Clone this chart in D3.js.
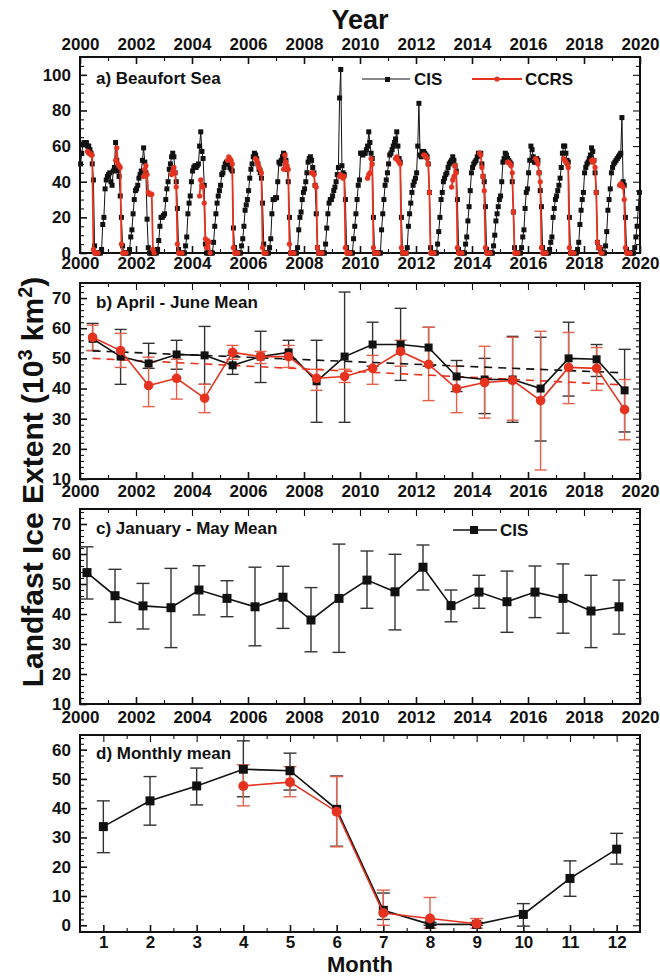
<!DOCTYPE html>
<html>
<head>
<meta charset="utf-8">
<script src="https://cdn.jsdelivr.net/npm/d3@7"></script>
<style>
  body { margin: 0; background: #fff; }
  svg text { font-family: "Liberation Sans", Arial, sans-serif; font-weight: bold; fill: #111; }
</style>
</head>
<body>
<div id="chart"></div>
<script>
// ---------------- data ----------------
var years = [2000, 2001, 2002, 2003, 2004, 2005, 2006, 2007, 2008, 2009,
             2010, 2011, 2012, 2013, 2014, 2015, 2016, 2017, 2018, 2019];
var yearTicks = [2000, 2002, 2004, 2006, 2008, 2010, 2012, 2014, 2016, 2018, 2020];
var months = [1, 2, 3, 4, 5, 6, 7, 8, 9, 10, 11, 12];
var ccrsMonths = [4, 5, 6, 7, 8, 9];

// a) CIS, half-monthly values, one row per year (Jan..Dec)
var cisHalfMonth = [
  [50,56,61,62,62,62,60,60,58,56,50,41,4,0,0,0,0,0,2,16,20,36,41,43],
  [44,45,40,38,46,48,62,52,46,43,32,20,4,0,0,0,0,0,2,9,13,22,30,35],
  [36,38,42,44,46,52,59,51,45,19,3,0,0,0,0,0,0,0,2,7,15,20,20,21],
  [22,30,36,40,47,50,54,56,54,45,40,25,2,0,0,0,0,0,4,9,22,28,32,40],
  [46,48,49,48,49,50,60,68,57,53,38,5,0,0,0,0,0,0,6,15,22,28,32,35],
  [38,44,45,48,50,51,51,50,48,47,46,14,3,0,0,0,0,0,4,8,15,24,27,30],
  [35,42,47,50,54,56,55,53,50,47,45,42,28,5,0,0,0,0,3,8,22,30,30,31],
  [31,40,51,50,52,54,56,55,52,47,40,20,0,0,0,0,0,0,3,13,20,23,30,34],
  [36,40,45,51,53,54,52,48,45,38,22,3,0,0,0,0,0,0,5,14,22,28,30,30],
  [32,35,37,40,44,48,87,103,49,45,44,30,3,0,0,0,0,0,8,15,22,30,38,41],
  [56,56,55,56,56,58,60,68,62,56,53,20,0,0,0,0,0,0,13,22,30,38,41,45],
  [50,55,56,58,60,62,64,68,60,53,51,20,0,0,0,0,3,15,22,28,34,38,40,42],
  [45,60,84,55,54,57,57,56,55,54,50,34,3,0,0,0,0,0,5,12,20,30,34,40],
  [42,44,45,48,50,51,52,54,52,49,46,30,2,0,0,0,0,0,5,9,18,26,35,45],
  [48,50,51,52,54,56,55,56,50,43,40,26,2,0,0,0,0,0,4,10,18,22,26,30],
  [32,40,51,53,56,55,53,52,51,50,40,23,3,0,0,0,0,0,3,9,13,25,34,36],
  [45,52,60,58,54,51,51,53,52,45,35,26,3,0,0,0,0,0,2,6,9,20,25,30],
  [32,35,38,42,48,56,60,60,56,52,51,20,0,0,0,0,0,0,2,6,16,24,30,34],
  [45,48,50,51,53,55,59,57,52,45,34,6,3,3,2,0,0,0,4,12,24,30,36,45],
  [48,50,51,52,53,54,55,56,76,40,38,20,2,0,0,0,0,0,0,3,9,15,25,34]
];
// a) CCRS, half-monthly values from early April (10 per year)
var ccrsHalfMonth = [
  [57,56,56,55,55,2,0,0,0,0],
  [52,59,50,49,48,5,0,0,0,0],
  [43,47,49,44,34,33,33,33,2,0],
  [44,46,48,45,37,5,0,0,0,0],
  [32,41,38,37,28,8,3,7,6,0],
  [52,54,53,52,50,3,0,0,0,0],
  [53,52,50,48,47,45,3,0,0,0],
  [47,55,51,49,47,5,0,0,0,0],
  [45,45,44,38,37,3,0,0,0,0],
  [43,44,43,42,43,3,0,0,0,0],
  [42,44,45,53,50,3,0,0,0,0],
  [53,54,52,51,50,3,0,0,0,0],
  [55,55,54,53,50,34,0,0,0,0],
  [37,41,43,49,45,3,0,0,0,0],
  [56,55,48,43,35,3,0,0,0,0],
  [51,51,50,49,45,23,0,0,0,0],
  [53,52,50,45,40,3,0,0,0,0],
  [53,52,51,50,48,3,0,0,0,0],
  [52,51,52,48,34,6,3,3,0,0],
  [38,39,38,37,30,3,0,0,0,0]
];

// b) April - June mean
var cisAJ   = [56.5,50.6,48.3,51.3,51,47.7,50.6,52,42.4,50.6,54.6,54.6,53.6,44,43,43,40,50,49.7,39.4];
var cisAJlo = [52.6,41.4,46.7,46.4,41.4,44.7,42,49.7,28.8,28.8,47.4,42.7,47.4,39,31.7,28.8,22.6,37.5,44,25.6];
var cisAJhi = [61.6,59.6,55,56,60.6,51,59,56,56,72,62,66.6,60.3,49.3,50,57.3,57,62,54.6,53];
var ccrsAJ   = [57,52.6,41,43.4,36.8,52,50.6,50.6,43.4,44,46.7,52.3,48,40,42,42.7,36,47,46.7,33];
var ccrsAJlo = [52.6,47,34,36.5,32,49.7,48.3,47,39.4,42,41.4,47.4,36,32,30.2,29.5,13,35,39.4,23];
var ccrsAJhi = [61,58.3,50.4,49.7,41.4,54.3,52.3,54.3,46.4,46.4,51,56,60.3,47.4,54,57,59,58.6,53.6,43];
var trendEnds = [2000.45, 2019.4];
var cisTrend  = [52.5, 45.2];
var ccrsTrend = [50.0, 41.2];

// c) January - May mean
var cisJM   = [53.8,46.1,42.7,42.1,48,45.2,42.4,45.6,38,45.2,51.3,47.4,55.6,42.8,47.3,44.1,47.3,45.2,41,42.4];
var cisJMlo = [45,37.2,35,28.8,39.7,39.1,29.4,35.2,27.4,27.2,41.9,34.7,48,37.4,41.9,33.9,38.8,33.6,28.8,33.3];
var cisJMhi = [62.4,54.9,50.2,55.2,56.1,51.1,55.6,55.9,48.8,63.3,61,59.9,63,48,52.9,54.3,56,56.7,52.9,51.3];

// d) Monthly mean
var cisMon   = [33.7,42.5,47.6,53.3,52.8,39.6,5.1,0.3,0.3,3.7,16,26];
var cisMonLo = [24.8,34.2,41.1,43.9,46.2,27,2,0,0,-0.3,9.9,20.9];
var cisMonHi = [42.5,50.8,53.7,63,58.8,51,11,1,1,7.4,22,31.4];
var ccrsMon   = [47.6,48.9,38.8,4.2,2.3,0.5];
var ccrsMonLo = [40.8,43.9,26.8,0,-1,-1];
var ccrsMonHi = [54.8,54.2,50.8,12,9.5,2.3];

// ---------------- layout ----------------
var width = 660, height = 977;
var left = 80, right = 640;
var black = "#111";
var red = "#e5331f";
var redBar = "#e4604a";

var svg = d3.select("#chart")
            .append("svg")
            .attr("width", width)
            .attr("height", height);

var xYear = d3.scaleLinear().domain([2000, 2020]).range([left, right]);
var xMonth = d3.scaleLinear().domain([0.5, 12.5]).range([left, right]);

// draws box, inward ticks on all four sides, labels on left and bottom (and top if asked)
function frame(o) {
  var y = d3.scaleLinear().domain(o.yDomain).range([o.bottom, o.top]);
  var g = svg.append("g");
  var fmt = d3.format("d");

  function ticks(axis, tr, values, size, labels, pad) {
    var a = g.append("g")
             .attr("transform", tr)
             .call(axis.tickValues(values).tickSize(size).tickPadding(pad || 0)
                       .tickFormat(labels ? fmt : ""));
    a.select(".domain").remove();
    a.selectAll("line").attr("stroke", black).attr("stroke-width", labels ? 1.6 : 1.1);
    a.selectAll("text").style("font-size", "17px").attr("fill", black);
    return a;
  }
  // y axes
  ticks(d3.axisLeft(y), "translate(" + left + ",0)", o.yMajor, -7, true, 9);
  ticks(d3.axisLeft(y), "translate(" + left + ",0)", o.yMinor, -4, false);
  ticks(d3.axisRight(y), "translate(" + right + ",0)", o.yMajor, -7, false);
  ticks(d3.axisRight(y), "translate(" + right + ",0)", o.yMinor, -4, false);
  // x axes
  ticks(d3.axisBottom(o.x), "translate(0," + o.bottom + ")", o.xMajor, -7, true, o.xPad);
  ticks(d3.axisBottom(o.x), "translate(0," + o.bottom + ")", o.xMinor, -4, false);
  ticks(d3.axisTop(o.x), "translate(0," + o.top + ")", o.xMajor, -7, !!o.topLabels, 7);
  ticks(d3.axisTop(o.x), "translate(0," + o.top + ")", o.xMinor, -4, false);

  g.append("rect")
   .attr("x", left).attr("y", o.top)
   .attr("width", right - left).attr("height", o.bottom - o.top)
   .attr("fill", "none").attr("stroke", black).attr("stroke-width", 2);

  svg.append("text")
     .attr("x", left + 16).attr("y", o.top + o.titleDy)
     .style("font-size", "17px")
     .text(o.title);
  return y;
}

function errorBars(g, xs, lo, hi, xScale, yScale, color, cap) {
  var d = xs.map(function(v, i) { return {x: v, lo: lo[i], hi: hi[i]}; });
  var e = g.append("g").attr("stroke", color).attr("stroke-width", 1.4);
  e.selectAll("line.v").data(d).enter().append("line")
   .attr("x1", function(d) { return xScale(d.x); })
   .attr("x2", function(d) { return xScale(d.x); })
   .attr("y1", function(d) { return yScale(d.lo); })
   .attr("y2", function(d) { return yScale(d.hi); });
  ["lo", "hi"].forEach(function(k) {
    e.selectAll("line." + k).data(d).enter().append("line")
     .attr("x1", function(d) { return xScale(d.x) - cap; })
     .attr("x2", function(d) { return xScale(d.x) + cap; })
     .attr("y1", function(d) { return yScale(d[k]); })
     .attr("y2", function(d) { return yScale(d[k]); });
  });
}

function series(g, pts, xScale, yScale, color, lw, shape, size) {
  var line = d3.line()
               .x(function(d) { return xScale(d.x); })
               .y(function(d) { return yScale(d.y); });
  g.append("path").datum(pts)
   .attr("d", line).attr("fill", "none")
   .attr("stroke", color).attr("stroke-width", lw);
  if (shape == "square") {
    g.selectAll(null).data(pts).enter().append("rect")
     .attr("x", function(d) { return xScale(d.x) - size / 2; })
     .attr("y", function(d) { return yScale(d.y) - size / 2; })
     .attr("width", size).attr("height", size)
     .attr("fill", color);
  } else {
    g.selectAll(null).data(pts).enter().append("circle")
     .attr("cx", function(d) { return xScale(d.x); })
     .attr("cy", function(d) { return yScale(d.y); })
     .attr("r", size).attr("fill", color);
  }
}

var yearMinor = d3.range(2001, 2020, 2);
var monthMinor = d3.range(1.5, 12, 1);

// ---------------- panel a ----------------
var yA = frame({top: 57, bottom: 253, yDomain: [0, 110], x: xYear,
                yMajor: [0, 20, 40, 60, 80, 100], yMinor: d3.range(5, 110, 5).filter(function(v) { return v % 20; }),
                xMajor: yearTicks, xMinor: yearMinor, xPad: 4, topLabels: true,
                title: "a) Beaufort Sea", titleDy: 27});

var cisPts = [];
cisHalfMonth.forEach(function(vals, k) {
  vals.forEach(function(v, i) { cisPts.push({x: years[k] + (i + 0.5) / 24, y: v}); });
});
var ccrsPts = [];
ccrsHalfMonth.forEach(function(vals, k) {
  vals.forEach(function(v, i) { ccrsPts.push({x: years[k] + (i + 6.5) / 24, y: v}); });
});
var gA = svg.append("g");
series(gA, cisPts, xYear, yA, black, 1, "square", 5);
// CCRS drawn one season at a time so the summer gaps are not joined
for (var k = 0; k < years.length; k++) {
  series(gA, ccrsPts.slice(k * 10, k * 10 + 10), xYear, yA, red, 1.8, "circle", 2.6);
}

// legend a
var lg = svg.append("g");
lg.append("line").attr("x1", 362).attr("x2", 410).attr("y1", 79).attr("y2", 79)
  .attr("stroke", black).attr("stroke-width", 1.2);
lg.append("rect").attr("x", 385).attr("y", 77).attr("width", 5).attr("height", 5).attr("fill", black);
lg.append("text").attr("x", 414).attr("y", 85).style("font-size", "17px").text("CIS");
lg.append("line").attr("x1", 472).attr("x2", 522).attr("y1", 79).attr("y2", 79)
  .attr("stroke", red).attr("stroke-width", 1.8);
lg.append("circle").attr("cx", 497).attr("cy", 79).attr("r", 2.6).attr("fill", red);
lg.append("text").attr("x", 525).attr("y", 85).style("font-size", "17px").text("CCRS");

// ---------------- panel b ----------------
var yB = frame({top: 283, bottom: 479, yDomain: [10, 75], x: xYear,
                yMajor: [10, 20, 30, 40, 50, 60, 70], yMinor: d3.range(12, 75, 2).filter(function(v) { return v % 10; }),
                xMajor: yearTicks, xMinor: yearMinor, xPad: 6,
                title: "b) April - June Mean", titleDy: 25});
var gB = svg.append("g");
var xB = years.map(function(v) { return v + 0.45; });
errorBars(gB, xB, cisAJlo, cisAJhi, xYear, yB, "#333", 6);
errorBars(gB, xB, ccrsAJlo, ccrsAJhi, xYear, yB, redBar, 6);
gB.append("line")
  .attr("x1", xYear(trendEnds[0])).attr("x2", xYear(trendEnds[1]))
  .attr("y1", yB(cisTrend[0])).attr("y2", yB(cisTrend[1]))
  .attr("stroke", black).attr("stroke-width", 1.6).attr("stroke-dasharray", "8,6");
gB.append("line")
  .attr("x1", xYear(trendEnds[0])).attr("x2", xYear(trendEnds[1]))
  .attr("y1", yB(ccrsTrend[0])).attr("y2", yB(ccrsTrend[1]))
  .attr("stroke", red).attr("stroke-width", 1.6).attr("stroke-dasharray", "8,6");
series(gB, xB.map(function(v, i) { return {x: v, y: cisAJ[i]}; }), xYear, yB, black, 1.6, "square", 8);
series(gB, xB.map(function(v, i) { return {x: v, y: ccrsAJ[i]}; }), xYear, yB, red, 1.6, "circle", 4.8);

// ---------------- panel c ----------------
var yC = frame({top: 509, bottom: 704, yDomain: [10, 75], x: xYear,
                yMajor: [10, 20, 30, 40, 50, 60, 70], yMinor: d3.range(12, 75, 2).filter(function(v) { return v % 10; }),
                xMajor: yearTicks, xMinor: yearMinor, xPad: 7,
                title: "c) January - May Mean", titleDy: 25});
var gC = svg.append("g");
var xC = years.map(function(v) { return v + 0.25; });
errorBars(gC, xC, cisJMlo, cisJMhi, xYear, yC, "#333", 6.5);
series(gC, xC.map(function(v, i) { return {x: v, y: cisJM[i]}; }), xYear, yC, black, 1.6, "square", 9);

var lc = svg.append("g");
lc.append("line").attr("x1", 453).attr("x2", 497).attr("y1", 530).attr("y2", 530)
  .attr("stroke", black).attr("stroke-width", 1.6);
lc.append("rect").attr("x", 470).attr("y", 526).attr("width", 8).attr("height", 8).attr("fill", black);
lc.append("text").attr("x", 500).attr("y", 536).style("font-size", "17px").text("CIS");

// ---------------- panel d ----------------
var yD = frame({top: 735, bottom: 932, yDomain: [-2.3, 65], x: xMonth,
                yMajor: [0, 10, 20, 30, 40, 50, 60], yMinor: d3.range(-2, 65, 2).filter(function(v) { return v % 10; }),
                xMajor: months, xMinor: monthMinor, xPad: 4,
                title: "d) Monthly mean", titleDy: 24});
var gD = svg.append("g");
errorBars(gD, months, cisMonLo, cisMonHi, xMonth, yD, "#333", 6.5);
errorBars(gD, ccrsMonths, ccrsMonLo, ccrsMonHi, xMonth, yD, redBar, 6.5);
series(gD, months.map(function(v, i) { return {x: v, y: cisMon[i]}; }), xMonth, yD, black, 1.6, "square", 9);
series(gD, ccrsMonths.map(function(v, i) { return {x: v, y: ccrsMon[i]}; }), xMonth, yD, red, 1.6, "circle", 5);

// ---------------- titles ----------------
svg.append("text").attr("x", 360).attr("y", 29)
   .attr("text-anchor", "middle").style("font-size", "27px").text("Year");
svg.append("text").attr("x", 360).attr("y", 972)
   .attr("text-anchor", "middle").style("font-size", "22px").text("Month");

var yt = svg.append("text")
            .attr("transform", "translate(43,482) rotate(-90)")
            .attr("text-anchor", "middle")
            .style("font-size", "30px");
yt.append("tspan").text("Landfast Ice Extent (10");
yt.append("tspan").attr("dy", -11).style("font-size", "20px").text("3");
yt.append("tspan").attr("dy", 11).text(" km");
yt.append("tspan").attr("dy", -11).style("font-size", "20px").text("2");
yt.append("tspan").attr("dy", 11).text(")");
</script>
</body>
</html>
